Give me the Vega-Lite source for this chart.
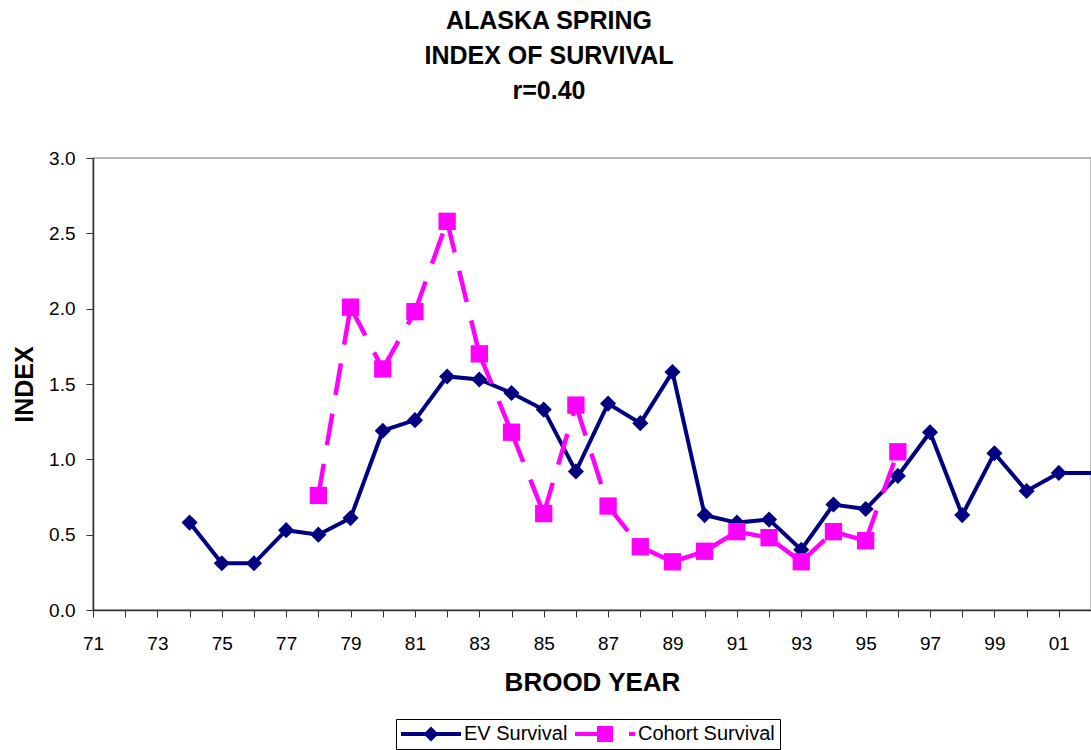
{
  "$schema": "https://vega.github.io/schema/vega-lite/v6.json",
  "width": 998,
  "height": 452,
  "autosize": {"type": "none"},
  "padding": {"left": 93, "top": 158, "right": 0, "bottom": 140},
  "background": "white",
  "config": {
    "font": "Liberation Sans",
    "view": {"stroke": "#a0a0a0", "strokeWidth": 1.5}
  },
  "title": {
    "text": ["ALASKA SPRING", "INDEX OF SURVIVAL", "r=0.40"],
    "fontSize": 25,
    "fontWeight": "bold",
    "lineHeight": 35,
    "color": "black",
    "anchor": "middle",
    "frame": "group",
    "dx": -43,
    "offset": 45
  },
  "data": {
    "values": [
      {"year": 1974, "series": "EV Survival", "value": 0.58},
      {"year": 1975, "series": "EV Survival", "value": 0.31},
      {"year": 1976, "series": "EV Survival", "value": 0.31},
      {"year": 1977, "series": "EV Survival", "value": 0.53},
      {"year": 1978, "series": "EV Survival", "value": 0.50},
      {"year": 1979, "series": "EV Survival", "value": 0.61},
      {"year": 1980, "series": "EV Survival", "value": 1.19},
      {"year": 1981, "series": "EV Survival", "value": 1.26},
      {"year": 1982, "series": "EV Survival", "value": 1.55},
      {"year": 1983, "series": "EV Survival", "value": 1.53},
      {"year": 1984, "series": "EV Survival", "value": 1.44},
      {"year": 1985, "series": "EV Survival", "value": 1.33},
      {"year": 1986, "series": "EV Survival", "value": 0.92},
      {"year": 1987, "series": "EV Survival", "value": 1.37},
      {"year": 1988, "series": "EV Survival", "value": 1.24},
      {"year": 1989, "series": "EV Survival", "value": 1.58},
      {"year": 1990, "series": "EV Survival", "value": 0.63},
      {"year": 1991, "series": "EV Survival", "value": 0.58},
      {"year": 1992, "series": "EV Survival", "value": 0.60},
      {"year": 1993, "series": "EV Survival", "value": 0.40},
      {"year": 1994, "series": "EV Survival", "value": 0.70},
      {"year": 1995, "series": "EV Survival", "value": 0.67},
      {"year": 1996, "series": "EV Survival", "value": 0.89},
      {"year": 1997, "series": "EV Survival", "value": 1.18},
      {"year": 1998, "series": "EV Survival", "value": 0.63},
      {"year": 1999, "series": "EV Survival", "value": 1.04},
      {"year": 2000, "series": "EV Survival", "value": 0.79},
      {"year": 2001, "series": "EV Survival", "value": 0.91},
      {"year": 2002, "series": "EV Survival", "value": 0.91},
      {"year": 1978, "series": "Cohort Survival", "value": 0.76},
      {"year": 1979, "series": "Cohort Survival", "value": 2.01},
      {"year": 1980, "series": "Cohort Survival", "value": 1.60},
      {"year": 1981, "series": "Cohort Survival", "value": 1.98},
      {"year": 1982, "series": "Cohort Survival", "value": 2.58},
      {"year": 1983, "series": "Cohort Survival", "value": 1.70},
      {"year": 1984, "series": "Cohort Survival", "value": 1.18},
      {"year": 1985, "series": "Cohort Survival", "value": 0.64},
      {"year": 1986, "series": "Cohort Survival", "value": 1.36},
      {"year": 1987, "series": "Cohort Survival", "value": 0.69},
      {"year": 1988, "series": "Cohort Survival", "value": 0.42},
      {"year": 1989, "series": "Cohort Survival", "value": 0.32},
      {"year": 1990, "series": "Cohort Survival", "value": 0.39},
      {"year": 1991, "series": "Cohort Survival", "value": 0.52},
      {"year": 1992, "series": "Cohort Survival", "value": 0.48},
      {"year": 1993, "series": "Cohort Survival", "value": 0.32},
      {"year": 1994, "series": "Cohort Survival", "value": 0.52},
      {"year": 1995, "series": "Cohort Survival", "value": 0.46},
      {"year": 1996, "series": "Cohort Survival", "value": 1.05}
    ]
  },
  "encoding": {
    "x": {
      "field": "year",
      "type": "quantitative",
      "scale": {"domain": [1971, 2002], "nice": false, "zero": false},
      "axis": {
        "values": [1971,1972,1973,1974,1975,1976,1977,1978,1979,1980,1981,1982,1983,1984,1985,1986,1987,1988,1989,1990,1991,1992,1993,1994,1995,1996,1997,1998,1999,2000,2001,2002],
        "labelExpr": "datum.value % 2 == 1 ? slice(toString(datum.value), 2) : ''",
        "labelFlush": false,
        "labelOverlap": false,
        "labelFontSize": 19,
        "labelColor": "black",
        "labelPadding": 17,
        "tickSize": 7,
        "tickColor": "#333333",
        "domainColor": "#333333",
        "domainWidth": 1.5,
        "grid": false,
        "title": "BROOD YEAR",
        "titleFontSize": 26,
        "titleFontWeight": "bold",
        "titleColor": "black",
        "titlePadding": 16
      }
    },
    "y": {
      "field": "value",
      "type": "quantitative",
      "scale": {"domain": [0, 3], "nice": false},
      "axis": {
        "values": [0, 0.5, 1, 1.5, 2, 2.5, 3],
        "format": ".1f",
        "labelFontSize": 19,
        "labelColor": "black",
        "labelPadding": 11,
        "tickSize": 7,
        "tickColor": "#333333",
        "domainColor": "#333333",
        "domainWidth": 1.5,
        "grid": false,
        "title": "INDEX",
        "titleFontSize": 25,
        "titleFontWeight": "bold",
        "titleColor": "black",
        "titlePadding": 11
      }
    },
    "color": {
      "field": "series",
      "type": "nominal",
      "scale": {"domain": ["EV Survival", "Cohort Survival"], "range": ["#000080", "#FF00FF"]},
      "legend": {
        "orient": "none",
        "legendX": 303,
        "legendY": 561,
        "direction": "horizontal",
        "title": null,
        "strokeColor": "black",
        "fillColor": "white",
        "padding": 5,
        "labelFontSize": 20,
        "labelColor": "black",
        "labelOffset": 43,
        "symbolSize": 400,
        "symbolStrokeWidth": 0,
        "symbolOpacity": 1,
        "columnPadding": 7,
        "encode": {
          "symbols": {
            "update": {
              "shape": {"signal": "datum.value === 'EV Survival' ? 'M-1,-0.2H5V0.2H-1Z M1.25,0L2,-0.75L2.75,0L2,0.75Z' : 'M-1,-0.2H1.3V0.2H-1Z M1.2,-0.8H2.8V0.8H1.2Z M4.4,-0.2H5V0.2H4.4Z'"},
              "fill": {"signal": "datum.value === 'EV Survival' ? '#000080' : '#FF00FF'"}
            }
          }
        }
      }
    }
  },
  "layer": [
    {
      "transform": [{"filter": "datum.series == 'EV Survival'"}],
      "mark": {"type": "line", "strokeWidth": 4}
    },
    {
      "transform": [{"filter": "datum.series == 'EV Survival' && datum.year < 2002"}],
      "mark": {"type": "point", "shape": "diamond", "filled": true, "size": 260, "opacity": 1}
    },
    {
      "transform": [
        {"filter": "datum.series == 'Cohort Survival'"},
        {"window": [{"op": "lead", "field": "year", "as": "year2"}, {"op": "lead", "field": "value", "as": "value2"}], "sort": [{"field": "year", "order": "ascending"}]},
        {"filter": "datum.year2 != null"}
      ],
      "mark": {"type": "rule", "strokeWidth": 4.5, "strokeDash": [32, 19]},
      "encoding": {
        "x2": {"field": "year2"},
        "y2": {"field": "value2"}
      }
    },
    {
      "transform": [{"filter": "datum.series == 'Cohort Survival'"}],
      "mark": {"type": "point", "shape": "square", "filled": true, "size": 300, "opacity": 1}
    }
  ]
}
